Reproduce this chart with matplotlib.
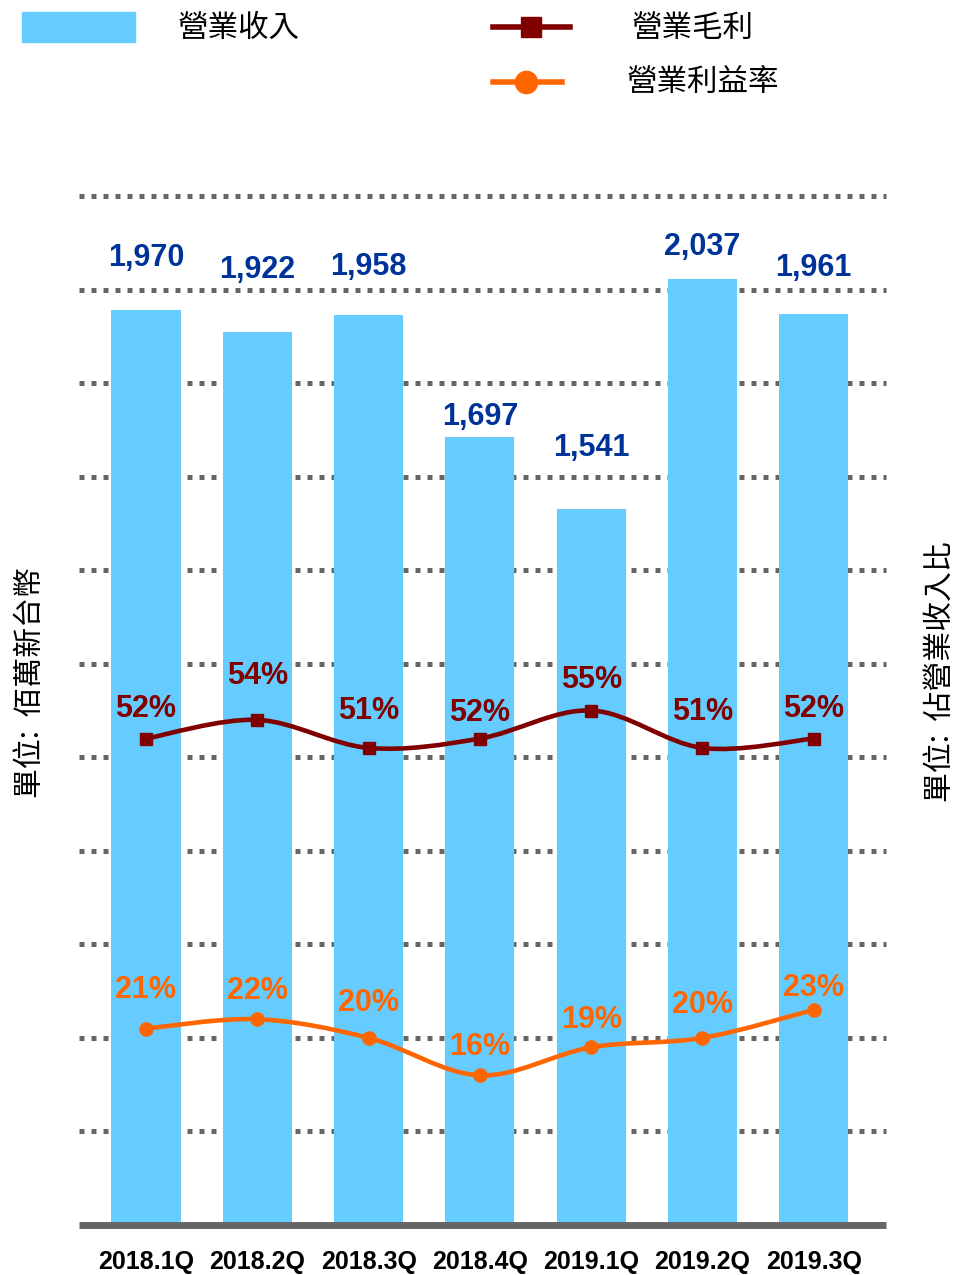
import numpy as np
import matplotlib
matplotlib.use('Agg')
import matplotlib.pyplot as plt
from matplotlib.path import Path
from matplotlib.patches import PathPatch, Rectangle

plt.rcParams['font.family'] = ['Liberation Sans', 'Noto Sans CJK TC', 'DejaVu Sans']
CJK = ['Noto Sans CJK TC', 'DejaVu Sans']

quarters = ['2018.1Q', '2018.2Q', '2018.3Q', '2018.4Q', '2019.1Q', '2019.2Q', '2019.3Q']
revenue = [1970, 1922, 1958, 1697, 1541, 2037, 1961]      # 營業收入 (佰萬新台幣)
gross_margin = [52, 54, 51, 52, 55, 51, 52]                # 營業毛利 (%)
op_margin = [21, 22, 20, 16, 19, 20, 23]                   # 營業利益率 (%)

BAR_COLOR = '#66CCFF'
REV_TEXT = '#003399'
GROSS_COLOR = '#800000'
OPM_COLOR = '#FF6600'
GRID_COLOR = '#666666'

REV_TOP = 2215
PCT_TOP = 110

# label nudges (pixels above the mark)
rev_label_dy = [52, 62, 48, 20, 61, 32, 46]
gross_label_dy = [30, 44, 37, 26, 30, 36, 30]
opm_label_dy = [39, 28, 35, 28, 27, 33, 22]


def smooth_path(xs, ys):
    """Bezier path through the points, tangents like a Catmull-Rom spline."""
    n = len(xs)
    verts = [(xs[0], ys[0])]
    codes = [Path.MOVETO]
    for i in range(n - 1):
        xa, ya = (xs[i - 1], ys[i - 1]) if i > 0 else (xs[i], ys[i])
        xd, yd = (xs[i + 2], ys[i + 2]) if i + 2 < n else (xs[i + 1], ys[i + 1])
        c1 = (xs[i] + (xs[i + 1] - xa) / 6, ys[i] + (ys[i + 1] - ya) / 6)
        c2 = (xs[i + 1] - (xd - xs[i]) / 6, ys[i + 1] - (yd - ys[i]) / 6)
        verts += [c1, c2, (xs[i + 1], ys[i + 1])]
        codes += [Path.CURVE4] * 3
    return Path(verts, codes)


fig = plt.figure(figsize=(9.59, 12.75), dpi=100)
ax = fig.add_axes([79 / 959, 50 / 1275, 807 / 959, 1029 / 1275])
x = np.arange(len(quarters))

# dotted grid every 10% of the right-hand scale
for pct in range(10, PCT_TOP + 1, 10):
    ax.axhline(pct * REV_TOP / PCT_TOP, color=GRID_COLOR, lw=3.6,
               linestyle=(0, (1, 1.4)), dash_capstyle='butt', zorder=1, clip_on=False)

ax.bar(x, revenue, width=0.62, color=BAR_COLOR, zorder=2)
ax.set_xlim(-0.602, 6.649)
ax.set_ylim(0, REV_TOP)

for xi, v, dy in zip(x, revenue, rev_label_dy):
    ax.annotate(f'{v:,}', (xi, v), xytext=(0, dy), textcoords='offset pixels',
                ha='center', va='center', fontsize=22, fontweight='bold', color=REV_TEXT)

for side in ['top', 'left', 'right']:
    ax.spines[side].set_visible(False)
ax.spines['bottom'].set_color(GRID_COLOR)
ax.spines['bottom'].set_linewidth(5)
ax.spines['bottom'].set_capstyle('butt')
ax.set_xticks(x, quarters, fontsize=18, fontweight='bold')
ax.tick_params(axis='x', length=0, pad=18)

ax2 = ax.twinx()
ax2.set_ylim(0, PCT_TOP)
for side in ax2.spines:
    ax2.spines[side].set_visible(False)
ax.tick_params(axis='y', left=False, right=False, labelleft=False, labelright=False)
ax2.tick_params(axis='y', left=False, right=False, labelleft=False, labelright=False)

ax2.add_patch(PathPatch(smooth_path(x, gross_margin), fill=False,
                        edgecolor=GROSS_COLOR, lw=3.3, capstyle='round', zorder=3))
ax2.plot(x, gross_margin, 's', ms=8.5, color=GROSS_COLOR, zorder=4)
ax2.add_patch(PathPatch(smooth_path(x, op_margin), fill=False,
                        edgecolor=OPM_COLOR, lw=3.3, capstyle='round', zorder=3))
ax2.plot(x, op_margin, 'o', ms=9.5, color=OPM_COLOR, zorder=4)

for xi, v, dy in zip(x, gross_margin, gross_label_dy):
    ax2.annotate(f'{v}%', (xi, v), xytext=(0, dy), textcoords='offset pixels',
                 ha='center', va='center', fontsize=22, fontweight='bold', color=GROSS_COLOR)
for xi, v, dy in zip(x, op_margin, opm_label_dy):
    ax2.annotate(f'{v}%', (xi, v), xytext=(0, dy), textcoords='offset pixels',
                 ha='center', va='center', fontsize=22, fontweight='bold', color=OPM_COLOR)

fig.text(30 / 959, 1 - 683 / 1275, '單位:  佰萬新台幣', rotation=90, ha='center',
         va='center', fontsize=21.5, family=CJK)
fig.text(940 / 959, 1 - 672 / 1275, '單位:  佔營業收入比', rotation=90, ha='center',
         va='center', fontsize=21.5, family=CJK)

# legend drawn in pixel space along the top
lax = fig.add_axes([0, 0, 1, 1])
lax.set_xlim(0, 959)
lax.set_ylim(1275, 0)
lax.axis('off')
lax.add_patch(Rectangle((22, 12), 113, 30, color=BAR_COLOR))
lax.text(178, 28, '營業收入', va='center', fontsize=22, family=CJK)
lax.plot([493, 570], [27, 27], color=GROSS_COLOR, lw=4)
lax.plot([531], [27], 's', ms=15, color=GROSS_COLOR)
lax.text(632, 28, '營業毛利', va='center', fontsize=22, family=CJK)
lax.plot([493, 562], [82, 82], color=OPM_COLOR, lw=4)
lax.plot([526], [82], 'o', ms=16, color=OPM_COLOR)
lax.text(627, 83, '營業利益率', va='center', fontsize=22, family=CJK)

fig.savefig('out.png', dpi=100)
